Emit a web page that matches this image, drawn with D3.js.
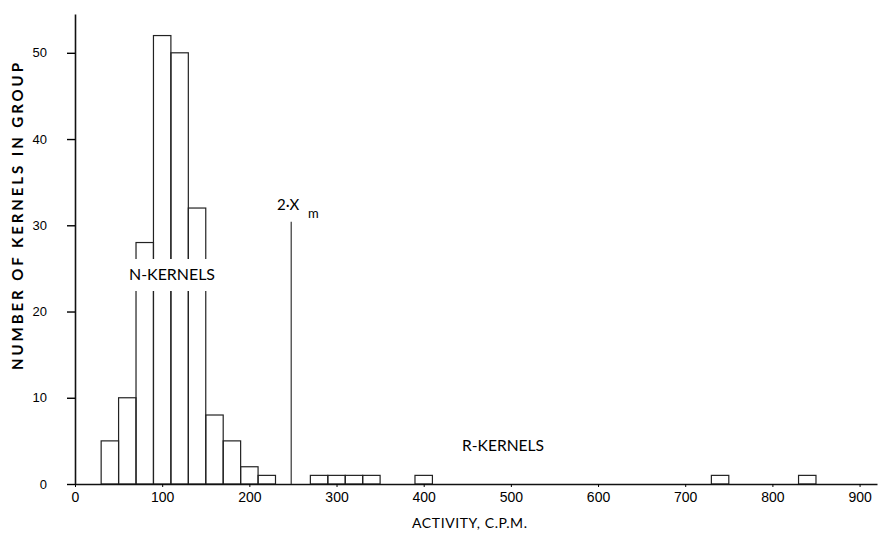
<!DOCTYPE html>
<html>
<head>
<meta charset="utf-8">
<script src="https://cdn.jsdelivr.net/npm/d3@7"></script>
<style>
  body { margin: 0; background: #fff; }
  svg { font-family: Lato, "Open Sans", sans-serif; }
</style>
</head>
<body>
<div id="chart"></div>
<script>
// histogram bins (lower edge, c.p.m.) and kernel counts
let nBinStart = [30, 50, 70, 90, 110, 130, 150, 170, 190, 210]
let nCounts = [5, 10, 28, 52, 50, 32, 8, 5, 2, 1]
let rBinStart = [270, 290, 310, 330, 390, 730, 830]
let rCounts = [1, 1, 1, 1, 1, 1, 1]
let binWidth = 20
let xTicks = [0, 100, 200, 300, 400, 500, 600, 700, 800, 900]
let yTicks = [0, 10, 20, 30, 40, 50]
let twoXm = 248
let twoXmHeight = 30.4

let width = 882,
    height = 533
let svg = d3.select("#chart").append("svg")
    .attr("width", width)
    .attr("height", height)

let xScale = d3.scaleLinear()
    .domain([0, 920])
    .range([75, 877])
let yScale = d3.scaleLinear()
    .domain([0, 54.5])
    .range([484, 14])

let bins = []
nBinStart.forEach(function(d, i) { bins.push({ x0: d, n: nCounts[i] }) })
rBinStart.forEach(function(d, i) { bins.push({ x0: d, n: rCounts[i] }) })

svg.selectAll(".bar")
    .data(bins)
    .enter()
    .append("rect")
    .attr("class", "bar")
    .attr("x", function(d) { return xScale(d.x0); })
    .attr("y", function(d) { return yScale(d.n); })
    .attr("width", function(d) { return xScale(d.x0 + binWidth) - xScale(d.x0); })
    .attr("height", function(d) { return yScale(0) - yScale(d.n); })
    .attr("fill", "none")
    .attr("stroke", "#222")
    .attr("stroke-width", 1.2)

// x axis
let xAxis = svg.append("g")
    .attr("transform", "translate(0," + yScale(0) + ")")
    .call(d3.axisBottom(xScale).tickValues(xTicks).tickSizeInner(3).tickSizeOuter(0).tickPadding(5))
xAxis.select(".domain").attr("stroke", "#111").attr("stroke-width", 1.6)
xAxis.selectAll("text").attr("font-size", 14).attr("fill", "#000")

// y axis
let yAxis = svg.append("g")
    .attr("transform", "translate(" + xScale(0) + ",0)")
    .call(d3.axisLeft(yScale).tickValues(yTicks).tickSizeInner(8).tickSizeOuter(0).tickPadding(20))
yAxis.select(".domain").attr("stroke", "#111").attr("stroke-width", 1.6)
yAxis.selectAll(".tick line").attr("stroke-width", 1.4)
yAxis.selectAll("text").attr("font-size", 13).attr("fill", "#000")

// 2Xm marker
svg.append("line")
    .attr("x1", xScale(twoXm)).attr("x2", xScale(twoXm))
    .attr("y1", yScale(0)).attr("y2", yScale(twoXmHeight))
    .attr("stroke", "#222")
    .attr("stroke-width", 1.1)
svg.append("text")
    .attr("x", 277).attr("y", 210)
    .attr("font-size", 15).attr("fill", "#000")
    .text("2\u00b7X")
svg.append("text")
    .attr("x", 308).attr("y", 218)
    .attr("font-size", 13).attr("fill", "#000")
    .text("m")

// N-KERNELS label sits on a white patch that cuts the bars
svg.append("rect")
    .attr("x", 124).attr("y", 259)
    .attr("width", 96).attr("height", 32)
    .attr("fill", "#fff")
svg.append("text")
    .attr("x", 129).attr("y", 280)
    .attr("font-size", 15).attr("fill", "#000")
    .attr("textLength", 86).attr("lengthAdjust", "spacingAndGlyphs")
    .text("N-KERNELS")
svg.append("text")
    .attr("x", 462).attr("y", 451)
    .attr("font-size", 15).attr("fill", "#000")
    .attr("textLength", 82).attr("lengthAdjust", "spacingAndGlyphs")
    .text("R-KERNELS")

svg.append("text")
    .attr("x", 412).attr("y", 528)
    .attr("font-size", 14).attr("fill", "#000")
    .attr("textLength", 115).attr("lengthAdjust", "spacing")
    .text("ACTIVITY, C.P.M.")

svg.append("text")
    .attr("transform", "translate(23,370) rotate(-90)")
    .attr("font-size", 15).attr("font-weight", "bold").attr("fill", "#000")
    .attr("textLength", 307).attr("lengthAdjust", "spacing")
    .text("NUMBER OF KERNELS IN GROUP")
</script>
</body>
</html>
